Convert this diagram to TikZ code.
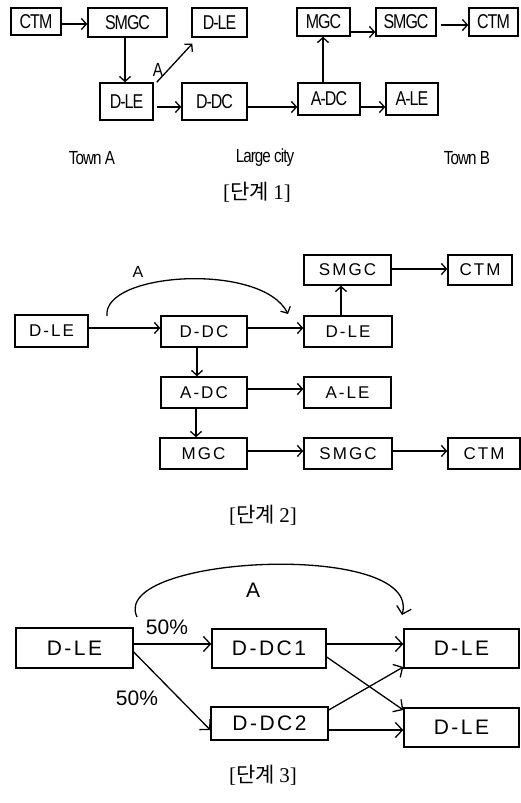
\documentclass[tikz,border=0pt]{standalone}
\usepackage{fontspec}
\setmainfont{Liberation Serif}
\newfontfamily\condf[FakeStretch=0.8,LetterSpace=-5]{Liberation Sans}
\newfontfamily\widef[LetterSpace=12]{Liberation Sans}
\newfontfamily\plainsf{Liberation Sans}
\newfontfamily\cjk{Noto Sans CJK KR}
\usetikzlibrary{arrows.meta}
\begin{document}
\begin{tikzpicture}[x=1pt,y=-1pt,
  box/.style={draw,line width=1.4pt,inner sep=0pt,minimum width=#1},
  bxa/.style={box=#1,font=\condf\fontsize{20}{20}\selectfont},
  bxb/.style={box=#1,font=\widef\fontsize{17}{17}\selectfont},
  bxc/.style={box=#1,font=\widef\fontsize{21}{21}\selectfont},
  arr/.style={line width=1.3pt,-{Straight Barb[length=5pt,width=11pt,line width=1.3pt]}},
  arrc/.style={line width=1.3pt,-{Straight Barb[length=7pt,width=15pt,line width=1.3pt]}},
  lbla/.style={font=\condf\fontsize{19}{19}\selectfont,inner sep=0pt},
  lblb/.style={font=\plainsf\fontsize{16}{16}\selectfont,inner sep=0pt},
  lblc/.style={font=\plainsf\fontsize{21}{21}\selectfont,inner sep=0pt},
  captn/.style={inner sep=0pt,font=\fontsize{21}{21}\selectfont}
]
\useasboundingbox (0,0) rectangle (521,803);
% ---------------- Stage 1
\node[bxa=50pt,minimum height=27pt] (ctmA) at (36,21.5) {CTM};
\node[bxa=79pt,minimum height=29pt] (smgcA) at (127.5,22.5) {SMGC};
\node[bxa=55pt,minimum height=29pt] (dleT) at (219.5,22.5) {D-LE};
\node[bxa=53pt,minimum height=37pt] (dleM) at (126.5,101.5) {D-LE};
\node[bxa=65pt,minimum height=37pt] (ddc) at (214.5,101.5) {D-DC};
\node[bxa=62pt,minimum height=32pt] (adc) at (329,99) {A-DC};
\node[bxa=52pt,minimum height=32pt] (ale) at (412,99) {A-LE};
\node[bxa=53pt,minimum height=28pt] (mgc) at (323.5,22) {MGC};
\node[bxa=60pt,minimum height=28pt] (smgcB) at (406,22) {SMGC};
\node[bxa=49pt,minimum height=28pt] (ctmB) at (493.5,22) {CTM};

\draw[arr] (ctmA.east |- 0,24) -- (smgcA.west |- 0,24);
\draw[arr] (smgcA.south -| 125,0) -- (dleM.north -| 125,0);
\draw[arr] ([xshift=3pt]dleM.north east) -- ([xshift=1pt,yshift=-6pt]dleT.south west);
\node[lbla] (la) at (158,70) {A};
\draw[arr] ([xshift=3pt]dleM.east |- 0,107) -- (ddc.west |- 0,107);
\draw[arr] (ddc.east |- 0,107) -- (adc.west |- 0,107);
\draw[arr] (adc.east |- 0,107) -- (ale.west |- 0,107);
\draw[arr] (adc.north -| 323,0) -- (mgc.south -| 323,0);
\draw[arr] (mgc.east |- 0,32) -- (smgcB.west |- 0,32);
\draw[arr] ([xshift=4pt]smgcB.east |- 0,25) -- (ctmB.west |- 0,25);

\node[lbla] (ta) at (92,158) {Town A};
\node[lbla] (lc) at (265,158) {Large city};
\node[lbla] (tb) at (467,158) {Town B};
\node[captn] (c1) at (257,192) {[\cjk 단계\ \rmfamily 1]};

% ---------------- Stage 2
\node[bxb=73pt,minimum height=32pt] (dle2a) at (51.5,331) {D-LE};
\node[bxb=86pt,minimum height=31pt] (ddc2) at (204,331.5) {D-DC};
\node[bxb=88pt,minimum height=31pt] (dle2b) at (348,331.5) {D-LE};
\node[bxb=87pt,minimum height=30pt] (smgc2) at (347.5,270) {SMGC};
\node[bxb=64pt,minimum height=30pt] (ctm2a) at (480,270) {CTM};
\node[bxb=86pt,minimum height=31pt] (adc2) at (204,392.5) {A-DC};
\node[bxb=87pt,minimum height=31pt] (ale2) at (347.5,392.5) {A-LE};
\node[bxb=87pt,minimum height=31pt] (mgc2) at (203.5,453.5) {MGC};
\node[bxb=88pt,minimum height=31pt] (smgc2b) at (348,453.5) {SMGC};
\node[bxb=72pt,minimum height=31pt] (ctm2b) at (484,453.5) {CTM};

\draw[arr] (dle2a.east |- 0,328) -- (ddc2.west |- 0,328);
\draw[arr] (ddc2.east |- 0,328) -- (dle2b.west |- 0,328);
\draw[arr] (dle2b.north -| 341,0) -- (smgc2.south -| 341,0);
\draw[arr] (smgc2.east |- 0,269) -- (ctm2a.west |- 0,269);
\draw[arr] (ddc2.south -| 197,0) -- (adc2.north -| 197,0);
\draw[arr] (adc2.east |- 0,389) -- (ale2.west |- 0,389);
\draw[arr] (adc2.south -| 196,0) -- (mgc2.north -| 196,0);
\draw[arr] (mgc2.east |- 0,451) -- (smgc2b.west |- 0,451);
\draw[arr] (smgc2b.east |- 0,451) -- (ctm2b.west |- 0,451);

\coordinate (s2) at (107,316);
\coordinate (e2) at (288,314);
\draw[arr] (s2) .. controls (102,272) and (262,262) .. (e2);
\node[lblb] (a2) at (138,272) {A};
\node[captn] (c2) at (263,515) {[\cjk 단계\ \rmfamily 2]};

% ---------------- Stage 3
\node[bxc=117pt,minimum height=40pt] (dle3a) at (74.5,648) {D-LE};
\node[bxc=114pt,minimum height=39pt] (ddc31) at (269,648.5) {D-DC1};
\node[bxc=115pt,minimum height=39pt] (dle3b) at (461.5,648.5) {D-LE};
\node[bxc=117pt,minimum height=33pt] (ddc32) at (269.5,723.5) {D-DC2};
\node[bxc=115pt,minimum height=39pt] (dle3c) at (461.5,727.5) {D-LE};

\draw[arrc] (dle3a.east |- 0,644) -- (ddc31.west |- 0,644);
\draw[arrc] (ddc31.east |- 0,644) -- (dle3b.west |- 0,644);
\draw[arrc] (dle3a.east |- 0,652) -- (ddc32.west |- 0,730);
\draw[arrc] (ddc31.east |- 0,657) -- (dle3c.west |- 0,710);
\draw[arrc] (ddc32.east |- 0,710) -- (dle3b.west |- 0,667);
\draw[arrc] (ddc32.east |- 0,730) -- (dle3c.west |- 0,730);

\node[lblc] (p1) at (167,627) {50\%};
\node[lblc] (p2) at (137,698) {50\%};

\coordinate (s3) at (137,617);
\coordinate (e3) at (402,615);
\draw[arrc] (s3) .. controls (108,555) and (422,540) .. (e3);
\node[lblc] (a3) at (253,590) {A};
\node[captn] (c3) at (263,775) {[\cjk 단계\ \rmfamily 3]};
\end{tikzpicture}
\end{document}
